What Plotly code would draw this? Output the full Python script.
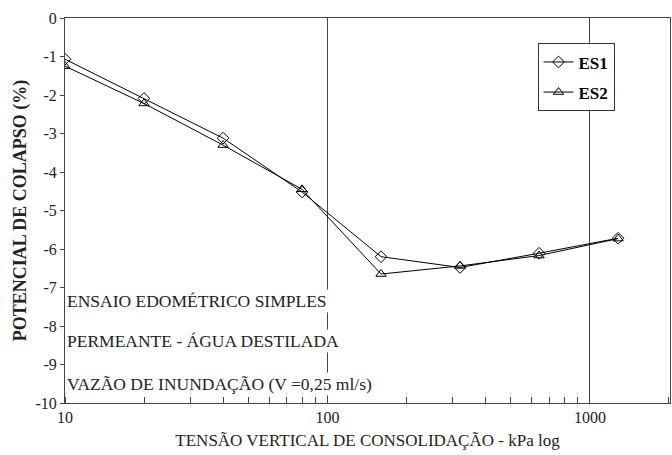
import plotly.graph_objects as go

# Consolidation stress (kPa) and collapse potential (%) for the two simple oedometer tests
tensao = [10, 20, 40, 80, 160, 320, 640, 1280]
es1 = [-1.07, -2.09, -3.12, -4.52, -6.20, -6.48, -6.11, -5.72]
es2 = [-1.25, -2.22, -3.30, -4.45, -6.65, -6.44, -6.17, -5.73]

y_ticks = [0, -1, -2, -3, -4, -5, -6, -7, -8, -9, -10]
notas = [
    ("ENSAIO EDOMÉTRICO SIMPLES", -7.35),
    ("PERMEANTE - ÁGUA DESTILADA", -8.4),
    ("VAZÃO DE INUNDAÇÃO (V =0,25 ml/s)", -9.5),
]

FONT = "Liberation Serif"

fig = go.Figure()
fig.add_trace(go.Scatter(
    x=tensao, y=es1, name="ES1", mode="lines+markers", legendgroup="es1",
    line=dict(color="black", width=1),
    marker=dict(symbol="diamond-open", size=9, color="black", line=dict(width=1)),
))
fig.add_trace(go.Scatter(
    x=tensao, y=es2, name="ES2", mode="lines+markers", legendgroup="es2",
    line=dict(color="black", width=1),
    marker=dict(symbol="triangle-up-open", size=9, color="black", line=dict(width=1)),
))

for texto, yv in notas:
    fig.add_annotation(
        x=0, xref="paper", xanchor="left", y=yv, yref="y", yanchor="middle",
        text=texto, showarrow=False, bgcolor="white", borderpad=1,
        font=dict(family=FONT, size=17.5, color="#222"),
    )

fig.update_layout(
    width=672, height=455,
    margin=dict(l=65, r=2, t=18, b=52),
    paper_bgcolor="white", plot_bgcolor="white",
    font=dict(family=FONT, size=16, color="#222"),
    showlegend=True,
    legend=dict(
        x=0.781, y=0.934, xanchor="left", yanchor="top",
        bgcolor="white", bordercolor="#333", borderwidth=1,
        font=dict(family=FONT, size=17, color="black", weight="bold"),
        itemwidth=30, tracegroupgap=5,
        entrywidth=108, entrywidthmode="pixels",
    ),
    xaxis=dict(
        type="log", range=[1, 3.305],
        tickvals=[10, 100, 1000], ticktext=["10", "100", "1000"],
        showgrid=True, gridcolor="#444", gridwidth=1,
        ticks="", showline=True, linecolor="#444", linewidth=1, mirror=True,
        minor=dict(ticks="inside", ticklen=6, tickcolor="#444", showgrid=False, dtick="D1"),
        zeroline=False,
        title=dict(text="TENSÃO VERTICAL DE CONSOLIDAÇÃO - kPa log", standoff=8,
                   font=dict(family=FONT, size=17)),
        tickfont=dict(family=FONT, size=16),
    ),
    yaxis=dict(
        range=[-10, 0], tickvals=y_ticks, ticktext=[str(v) for v in y_ticks],
        showgrid=False, zeroline=False,
        ticks="outside", ticklen=4, tickcolor="#444",
        showline=True, linecolor="#444", linewidth=1, mirror=True,
        title=dict(text="<b>POTENCIAL DE COLAPSO (%)</b>", standoff=4,
                   font=dict(family=FONT, size=18)),
        tickfont=dict(family=FONT, size=16),
    ),
)

fig.write_html("out.html")
